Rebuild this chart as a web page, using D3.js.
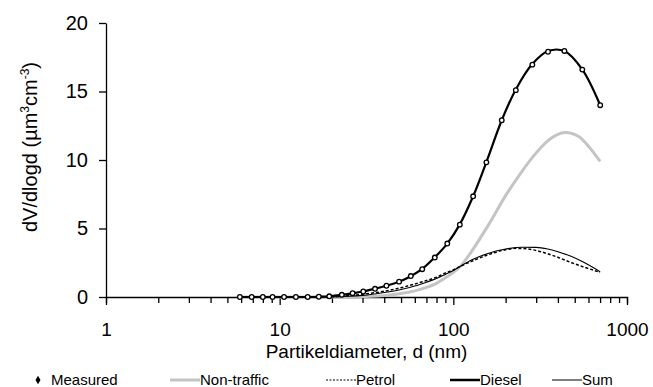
<!DOCTYPE html>
<html>
<head>
<meta charset="utf-8">
<script src="https://cdn.jsdelivr.net/npm/d3@7"></script>
<style>
  body { margin: 0; background: #fff; }
  svg { display: block; font-family: "Liberation Sans", Arial, sans-serif; }
</style>
</head>
<body>
<div id="chart"></div>
<script>
// Measured size distribution (diameter in nm, dV/dlogd)
const diam = [5.9, 6.9, 8.0, 9.1, 10.6, 12.4, 14.5, 16.8, 19.3, 22.8, 26.3, 30.3, 35.4, 41.2, 48.7,
  56.9, 66.2, 78.2, 92.3, 109, 130, 155, 190, 229, 285, 351, 436, 553, 701];
const measured = [0, 0, 0, 0, 0, 0, 0, 0.02, 0.05, 0.16, 0.28, 0.4, 0.6, 0.82, 1.12,
  1.53, 2.03, 2.88, 3.9, 5.28, 7.35, 9.83, 12.9, 15.1, 16.96, 17.9, 17.96, 16.6, 14.0];
// Thick fitted curve through the measurements
const diesel = [0, 0, 0, 0, 0, 0, 0, 0.02, 0.05, 0.15, 0.27, 0.4, 0.6, 0.82, 1.12,
  1.52, 2.05, 2.9, 3.9, 5.3, 7.35, 9.85, 12.9, 15.15, 17.0, 17.95, 17.95, 16.6, 14.0];

// Source contributions
const nonTrafficD = [6, 20, 30, 40, 50, 60, 70, 80, 90, 100, 110, 130, 160, 200, 240, 290, 350, 440, 530, 600, 700];
const nonTraffic = [0, 0, 0.03, 0.1, 0.25, 0.45, 0.7, 1.0, 1.4, 1.8, 2.25, 3.5, 5.3, 7.4, 8.9, 10.3, 11.4, 12.0, 11.7, 11.0, 9.9];

const petrolD = [6, 20, 25, 30, 40, 50, 60, 70, 80, 90, 100, 110, 130, 160, 200, 230, 270, 320, 400, 480, 560, 700];
const petrol = [0, 0.02, 0.1, 0.2, 0.42, 0.68, 0.95, 1.2, 1.45, 1.75, 1.98, 2.25, 2.65, 3.1, 3.45, 3.55, 3.5, 3.3, 2.9, 2.5, 2.2, 1.8];

const sumD = [6, 20, 25, 30, 40, 50, 60, 70, 80, 90, 100, 110, 130, 160, 200, 250, 300, 350, 400, 480, 560, 700];
const sum = [0, 0.01, 0.05, 0.12, 0.33, 0.55, 0.8, 1.08, 1.35, 1.65, 1.93, 2.25, 2.75, 3.2, 3.5, 3.63, 3.62, 3.5, 3.3, 2.95, 2.55, 1.85];

const yTicks = [0, 5, 10, 15, 20];
const xMajor = [1, 10, 100, 1000];
const legendLabels = ["Measured", "Non-traffic", "Petrol", "Diesel", "Sum"];

const W = 653, H = 387;
const svg = d3.select("#chart").append("svg").attr("width", W).attr("height", H);

const x = d3.scaleLog().domain([1, 1000]).range([106, 627]);
const y = d3.scaleLinear().domain([0, 20]).range([297, 23]);

// minor + major ticks on the log axis
const xTicks = [];
for (let p = 1; p <= 100; p *= 10) for (let k = 1; k < 10; k++) xTicks.push(k * p);
xTicks.push(1000);

const xAxis = svg.append("g")
    .attr("transform", `translate(0,${y(0)})`)
    .call(d3.axisBottom(x).tickValues(xTicks).tickSizeOuter(0).tickSize(6).tickPadding(20)
      .tickFormat(d => xMajor.includes(d) ? d : ""));
xAxis.selectAll(".tick line").attr("y2", d => xMajor.includes(d) ? 8 : 6);
xAxis.selectAll("text").style("font-size", "19px").attr("fill", "#000");
xAxis.select(".domain").attr("stroke-width", 1.3);
xAxis.selectAll(".tick line").attr("stroke-width", 1.3);

const yAxis = svg.append("g")
    .attr("transform", `translate(${x(1)},0)`)
    .call(d3.axisLeft(y).tickValues(yTicks).tickSize(7).tickPadding(11).tickSizeOuter(0));
yAxis.selectAll("text").style("font-size", "20px").attr("fill", "#000");
yAxis.select(".domain").attr("stroke-width", 1.3);
yAxis.selectAll(".tick line").attr("stroke-width", 1.3);

// axis titles
svg.append("text")
    .attr("x", (x(1) + x(1000)) / 2).attr("y", 358)
    .attr("text-anchor", "middle").style("font-size", "19px")
    .text("Partikeldiameter, d (nm)");

const yt = svg.append("text")
    .attr("transform", "translate(37,147) rotate(-90)")
    .attr("text-anchor", "middle").style("font-size", "20px");
yt.append("tspan").text("dV/dlogd (µm");
yt.append("tspan").attr("dy", -8).style("font-size", "12px").text("3");
yt.append("tspan").attr("dy", 8).text("cm");
yt.append("tspan").attr("dy", -8).style("font-size", "12px").text("-3");
yt.append("tspan").attr("dy", 8).text(")");

const line = d3.line().curve(d3.curveMonotoneX);
const pts = (ds, vs) => ds.map((d, i) => [x(d), y(vs[i])]);

svg.append("path").attr("d", line(pts(nonTrafficD, nonTraffic)))
    .attr("fill", "none").attr("stroke", "#c4c4c4").attr("stroke-width", 3);
svg.append("path").attr("d", line(pts(sumD, sum)))
    .attr("fill", "none").attr("stroke", "#000").attr("stroke-width", 1.1);
svg.append("path").attr("d", line(pts(petrolD, petrol)))
    .attr("fill", "none").attr("stroke", "#000").attr("stroke-width", 1.5).attr("stroke-dasharray", "3,2");
svg.append("path").attr("d", d3.line().curve(d3.curveCatmullRom)(pts(diam, diesel)))
    .attr("fill", "none").attr("stroke", "#000").attr("stroke-width", 2.2);

svg.selectAll(".pt").data(diam).join("circle")
    .attr("class", "pt")
    .attr("cx", d => x(d))
    .attr("cy", (d, i) => y(measured[i]))
    .attr("r", 2.3)
    .attr("fill", "#fff").attr("stroke", "#000").attr("stroke-width", 1.3);

// legend
const ly = 380;
const legendX = [38, 170, 326, 450, 552];
const lg = svg.append("g").style("font-size", "15px");
legendLabels.forEach((lab, i) => {
  const lx = legendX[i];
  if (i === 0) {
    lg.append("path").attr("d", d3.symbol(d3.symbolDiamond, 22)())
      .attr("transform", `translate(${lx},${ly})`).attr("fill", "#000");
    lg.append("text").attr("x", lx + 13).attr("y", ly + 5).text(lab);
    return;
  }
  const l = lg.append("line").attr("x1", lx).attr("x2", lx + 30).attr("y1", ly).attr("y2", ly);
  if (i === 1) l.attr("stroke", "#c4c4c4").attr("stroke-width", 3);
  if (i === 2) l.attr("stroke", "#000").attr("stroke-width", 1.2).attr("stroke-dasharray", "2,1.5");
  if (i === 3) l.attr("stroke", "#000").attr("stroke-width", 2.5);
  if (i === 4) l.attr("stroke", "#000").attr("stroke-width", 1);
  lg.append("text").attr("x", lx + 30).attr("y", ly + 5).text(lab);
});
</script>
</body>
</html>
